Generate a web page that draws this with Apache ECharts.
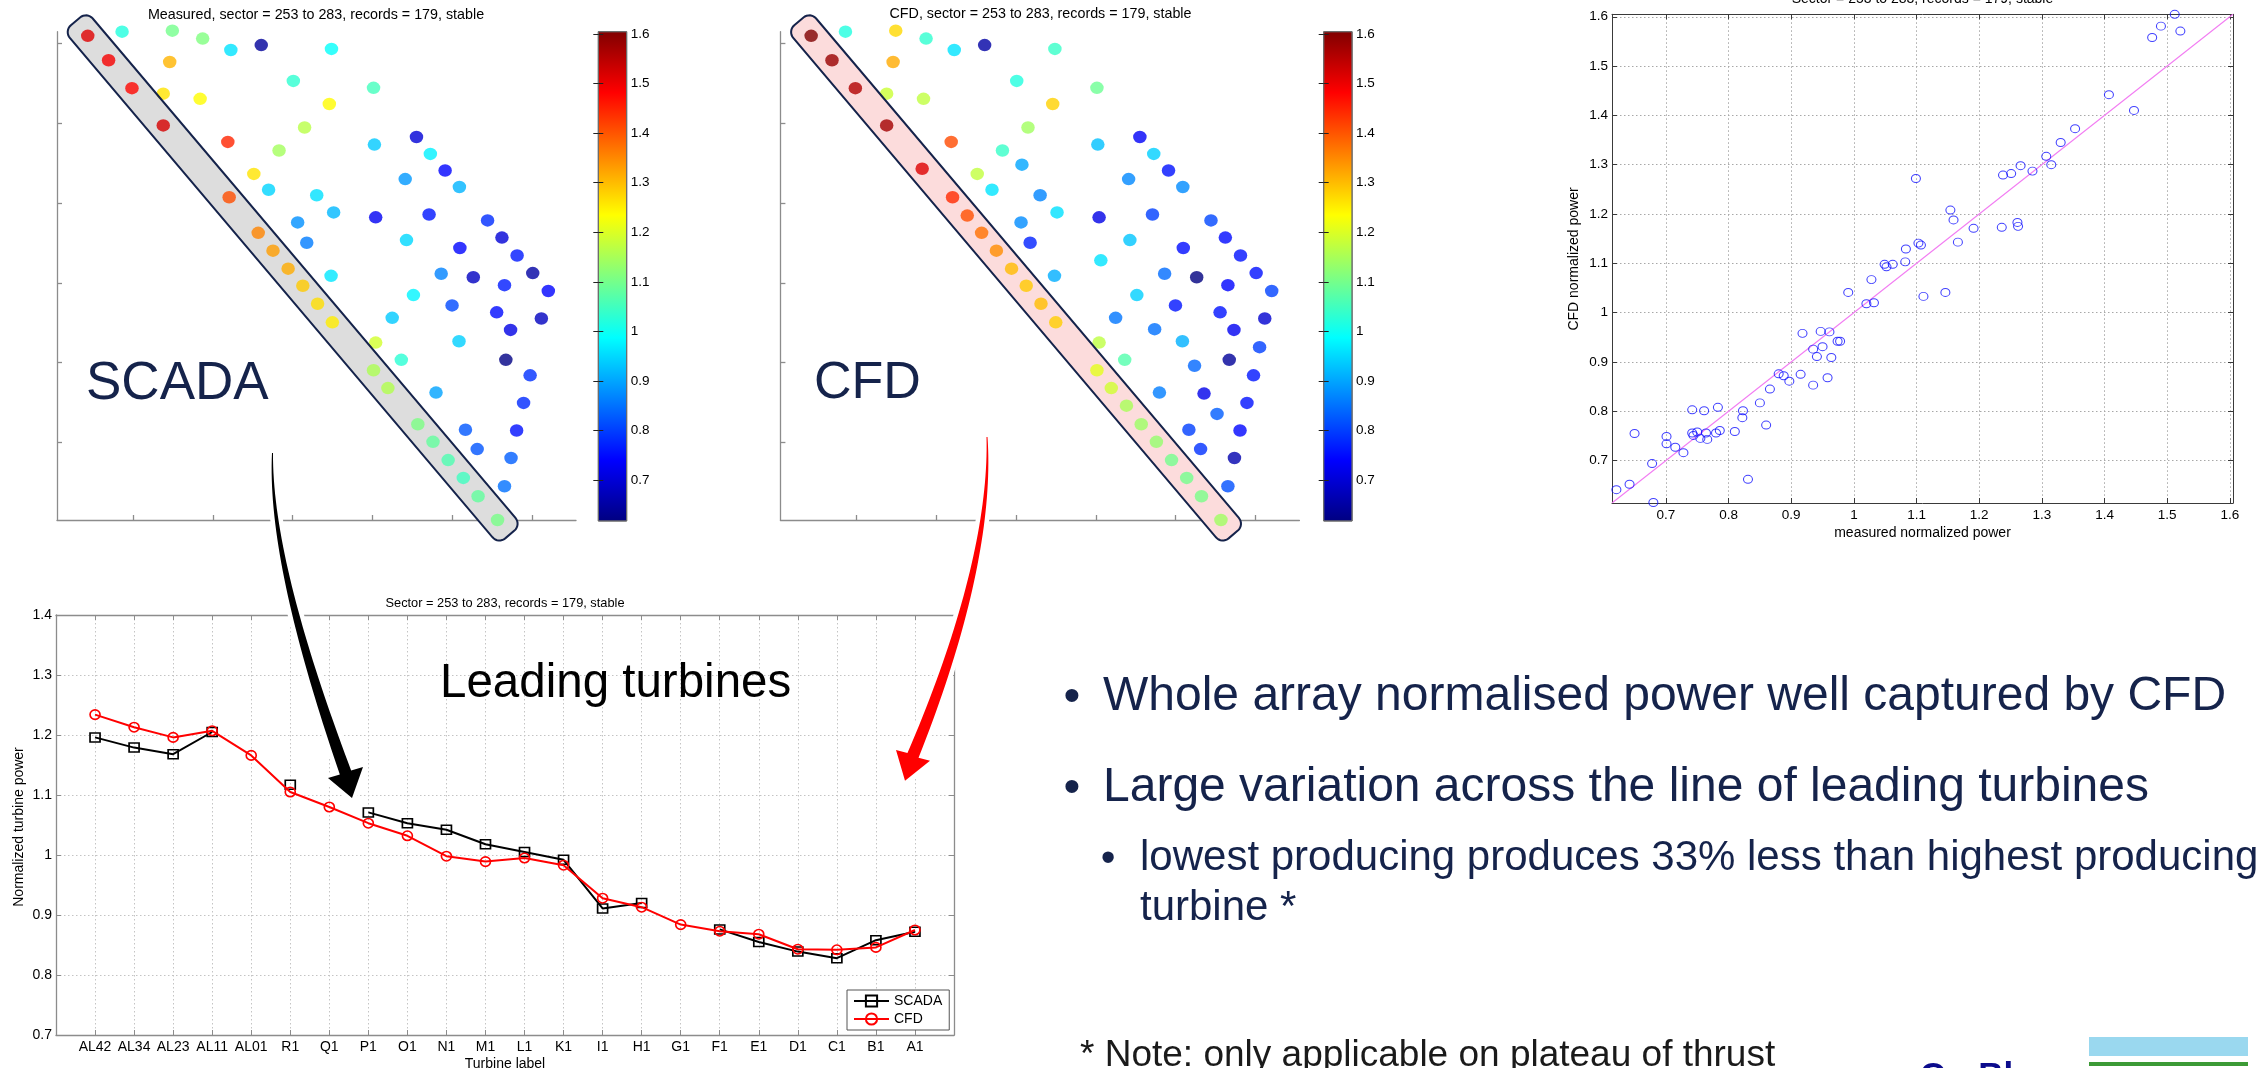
<!DOCTYPE html>
<html>
<head>
<meta charset="utf-8">
<title>Wind farm normalised power: SCADA vs CFD</title>
<script src="https://cdn.jsdelivr.net/npm/echarts@6/dist/echarts.min.js"></script>
<style>
  html, body { margin: 0; padding: 0; background: #fff; overflow: hidden; }
  #chart { width: 2257px; height: 1068px; }
</style>
</head>
<body>
<div id="chart"></div>
<script>
// ---------------- data ----------------
// Leading-row turbine labels (west to east along the front row)
const categories = ['AL42','AL34','AL23','AL11','AL01','R1','Q1','P1','O1','N1','M1','L1','K1','I1','H1','G1','F1','E1','D1','C1','B1','A1'];
// Normalised power of the leading turbines (null = no SCADA record)
const scadaPower = [1.196,1.179,1.168,1.205,null,1.117,null,1.071,1.053,1.042,1.018,1.005,0.992,0.911,0.920,null,0.876,0.855,0.839,0.828,0.858,0.872];
const cfdLinePower = [1.234,1.213,1.196,1.207,1.166,1.105,1.080,1.053,1.032,0.998,0.989,0.995,0.983,0.928,0.913,0.884,0.873,0.868,0.843,0.842,0.846,0.875];

// Turbine layout (grid units); the first 22 entries are the leading row in the order of `categories`
const turbineX = [0.433,0.694,0.987,1.379,1.824,2.205,2.389,2.569,2.754,2.944,3.128,3.313,3.498,4.014,4.194,4.384,4.569,4.759,4.949,5.139,5.324,5.568,
  0.863,1.493,1.873,2.226,2.607,3.487,1.460,3.009,4.014,1.379,1.841,3.460,3.150,4.552,2.188,4.025,2.830,4.726,3.074,4.911,2.514,
  4.411,5.090,2.699,3.302,3.514,4.041,4.710,5.443,3.063,4.427,3.177,5.096,5.623,5.813,4.063,6.009,4.862,5.264,3.482,5.655,
  4.514,6.204,4.998,5.557,4.248,6.117,4.737,5.731,5.085,4.041,6.052,4.362,5.672,5.237,5.976,4.797,5.356,5.894,5.519,5.166,
  5.807,5.313,5.737,5.655];
const turbineY = [6.096,5.790,5.440,4.974,4.431,4.073,3.844,3.628,3.404,3.179,2.964,2.739,2.506,1.906,1.682,1.462,1.229,1.009,0.780,0.556,0.327,0.029,
  6.148,6.161,6.062,5.919,5.980,5.932,5.768,5.531,5.445,5.371,5.307,5.242,4.948,4.828,4.767,4.733,4.659,4.616,4.482,4.409,4.366,
  4.301,4.202,4.167,4.098,3.883,3.822,3.857,3.783,3.758,3.537,3.503,3.438,3.568,3.343,3.283,3.123,3.115,3.071,3.089,2.972,
  2.847,2.899,2.718,2.631,2.562,2.554,2.420,2.411,2.269,2.252,2.195,2.036,2.036,1.962,1.842,1.626,1.613,1.496,1.358,1.160,
  1.151,0.918,0.806,0.452];
// Normalised power per turbine, measured (SCADA) and CFD
const measuredPower = [1.512,1.490,1.476,1.521,null,1.407,null,1.353,1.330,1.315,1.285,1.266,1.251,1.154,1.159,null,1.107,1.083,1.062,1.049,1.082,1.103,
  1.020,1.099,1.111,0.961,0.642,0.991,1.307,1.032,1.052,1.261,1.236,1.238,1.166,0.701,1.447,0.935,1.146,0.974,null,0.742,1.262,
  0.888,0.915,0.947,0.958,0.918,0.728,0.761,0.783,0.880,0.950,0.860,0.744,0.701,0.764,null,0.650,0.866,0.680,0.964,0.766,
  0.978,0.742,0.810,0.750,0.935,0.678,null,0.715,0.941,1.191,null,1.028,0.621,null,0.786,0.897,null,0.780,null,0.823,
  0.755,0.822,0.831,0.850];
const cfdPower = [1.605,1.581,1.558,1.571,1.515,1.442,1.405,1.373,1.345,1.300,1.287,1.298,1.282,1.208,1.188,1.150,1.137,1.129,1.098,1.098,1.103,1.141,
  1.018,1.272,1.033,0.961,0.652,1.041,1.317,1.020,1.093,1.183,1.173,1.279,1.143,0.734,1.410,0.926,1.041,0.942,0.900,0.756,1.175,
  0.872,0.875,0.962,0.868,0.958,0.716,0.801,0.808,0.876,0.931,0.772,0.751,0.749,0.756,0.960,0.755,0.845,0.615,0.909,0.743,
  0.942,0.803,0.759,0.758,0.853,0.694,0.850,0.727,0.911,1.171,0.800,1.067,0.641,0.840,0.761,0.861,0.720,0.756,0.830,0.801,
  0.745,0.787,0.662,0.817];

// Tick values
const mapTicks = [1, 2, 3, 4, 5, 6];
const powerTicks = [0.7, 0.8, 0.9, 1.0, 1.1, 1.2, 1.3, 1.4, 1.5, 1.6];

// Axis extents
const MAP_X = [0.0476, 6.551];
const MAP_Y = [0.029, 6.148];
const C_MIN = 0.617, C_MAX = 1.605;   // colour scale
const S_MIN = 0.614, S_MAX = 1.605;   // scatter axes
const LINE_Y = [0.7, 1.4];

// ---------------- styling ----------------
const FONT = '"Liberation Sans", Arial, Helvetica, sans-serif';
const JET = ['#000080','#0000ff','#0080ff','#00ffff','#80ff80','#ffff00','#ff8000','#ff0000','#800000'];
const NAVY = '#15234b';
const AXIS_GREY = '#8c8c8c';

const chart = echarts.init(document.getElementById('chart'), null, { renderer: 'canvas', width: 2257, height: 1068 });

function layoutPoints(values) {
  const out = [];
  for (let i = 0; i < turbineX.length; i++) {
    if (values[i] != null) out.push([turbineX[i], turbineY[i], values[i]]);
  }
  return out;
}
const scatterPairs = [];
for (let i = 0; i < measuredPower.length; i++) {
  if (measuredPower[i] != null) scatterPairs.push([measuredPower[i], cfdPower[i]]);
}

function mapXAxis(gridIndex) {
  return {
    type: 'value', gridIndex, min: MAP_X[0], max: MAP_X[1],
    axisLine: { show: true, onZero: false, lineStyle: { color: AXIS_GREY, width: 1.3 } },
    axisTick: { show: true, inside: true, length: 5, customValues: mapTicks, lineStyle: { color: AXIS_GREY, width: 1.3 } },
    axisLabel: { show: false, customValues: mapTicks },
    splitLine: { show: false }
  };
}
function mapYAxis(gridIndex) {
  return {
    type: 'value', gridIndex, min: MAP_Y[0], max: MAP_Y[1],
    axisLine: { show: true, onZero: false, lineStyle: { color: AXIS_GREY, width: 1.3 } },
    axisTick: { show: true, inside: true, length: 5, customValues: mapTicks, lineStyle: { color: AXIS_GREY, width: 1.3 } },
    axisLabel: { show: false, customValues: mapTicks },
    splitLine: { show: false }
  };
}
function colorbarYAxis(gridIndex, position, labels) {
  return {
    type: 'value', gridIndex, position, min: C_MIN, max: C_MAX, z: 6,
    axisLine: { show: false },
    axisTick: { show: true, inside: true, length: 5, customValues: powerTicks, lineStyle: { color: '#222', width: 1 } },
    axisLabel: { show: labels, customValues: powerTicks, margin: 4, fontSize: 13.5, color: '#000', fontFamily: FONT },
    splitLine: { show: false }
  };
}
function hiddenXAxis(gridIndex) {
  return { type: 'value', gridIndex, min: 0, max: 1, show: false };
}
function scatterAxis(kind, gridIndex, position, labels) {
  return {
    type: 'value', gridIndex, position, min: S_MIN, max: S_MAX,
    axisLine: { show: true, onZero: false, lineStyle: { color: '#3a3a3a', width: 1 } },
    axisTick: { show: true, inside: true, length: 5, customValues: powerTicks, lineStyle: { color: '#3a3a3a' } },
    axisLabel: { show: labels, customValues: powerTicks, margin: kind === 'x' ? 5 : 4, fontSize: 13.5, color: '#000', fontFamily: FONT },
    splitLine: { show: labels, lineStyle: { type: [1.5, 2.5], color: '#a8a8a8', width: 1 } }
  };
}
function lineXAxis(position, labels) {
  return {
    type: 'value', gridIndex: 5, position, min: 0, max: categories.length + 1, interval: 1,
    axisLine: { show: true, onZero: false, lineStyle: { color: AXIS_GREY, width: 1.3 } },
    axisTick: { show: true, inside: true, length: 5, lineStyle: { color: AXIS_GREY } },
    axisLabel: {
      show: labels, margin: 5, fontSize: 14, color: '#000', fontFamily: FONT,
      formatter: v => categories[v - 1] || ''
    },
    splitLine: { show: labels, lineStyle: { type: [1.5, 2.5], color: '#c4c4c4', width: 1 } }
  };
}
function lineYAxis(position, labels) {
  return {
    type: 'value', gridIndex: 5, position, min: LINE_Y[0], max: LINE_Y[1], interval: 0.1,
    axisLine: { show: true, onZero: false, lineStyle: { color: AXIS_GREY, width: 1.3 } },
    axisTick: { show: true, inside: true, length: 5, lineStyle: { color: AXIS_GREY } },
    axisLabel: { show: labels, margin: 4, fontSize: 14, color: '#000', fontFamily: FONT },
    splitLine: { show: labels, lineStyle: { type: [1.5, 2.5], color: '#c4c4c4', width: 1 } }
  };
}

function colorbarSeries(xi, yi) {
  return {
    type: 'custom', xAxisIndex: xi, yAxisIndex: yi, z: 2, silent: true,
    data: [[0, C_MIN, 1, C_MAX]],
    renderItem: (params, api) => {
      const tl = api.coord([api.value(0), api.value(3)]);
      const br = api.coord([api.value(2), api.value(1)]);
      const stops = JET.map((c, i) => ({ offset: i / (JET.length - 1), color: c }));
      return {
        type: 'rect',
        shape: { x: tl[0], y: tl[1], width: br[0] - tl[0], height: br[1] - tl[1] },
        style: { fill: new echarts.graphic.LinearGradient(0, 1, 0, 0, stops), stroke: '#6a6a6a', lineWidth: 1 }
      };
    }
  };
}

const option = {
  backgroundColor: '#ffffff',
  animation: false,
  textStyle: { fontFamily: FONT },
  grid: [
    { left: 57, top: 31.7, width: 519, height: 488.3 },       // measured layout
    { left: 780.4, top: 31.7, width: 519, height: 488.3 },    // CFD layout
    { left: 598.3, top: 31.7, width: 28.4, height: 489.3 },   // measured colour bar
    { left: 1323.7, top: 31.7, width: 28.4, height: 489.3 },  // CFD colour bar
    { left: 1612, top: 14.3, width: 621, height: 488.7 },     // measured vs CFD
    { left: 56, top: 615, width: 898, height: 420 }           // leading turbines
  ],
  xAxis: [
    mapXAxis(0), mapXAxis(1), hiddenXAxis(2), hiddenXAxis(3),
    scatterAxis('x', 4, 'bottom', true), scatterAxis('x', 4, 'top', false),
    lineXAxis('bottom', true), lineXAxis('top', false)
  ],
  yAxis: [
    mapYAxis(0), mapYAxis(1),
    colorbarYAxis(2, 'right', true), colorbarYAxis(2, 'left', false),
    colorbarYAxis(3, 'right', true), colorbarYAxis(3, 'left', false),
    scatterAxis('y', 4, 'left', true), scatterAxis('y', 4, 'right', false),
    lineYAxis('left', true), lineYAxis('right', false)
  ],
  visualMap: [{
    type: 'continuous', show: false, seriesIndex: [0, 1], dimension: 2,
    min: C_MIN, max: C_MAX, inRange: { color: JET }
  }],
  legend: {
    left: 847, top: 990, orient: 'vertical',
    data: ['SCADA', 'CFD'],
    padding: [4, 7, 4, 6], itemGap: 4, itemWidth: 35, itemHeight: 14,
    backgroundColor: '#fff', borderColor: '#555', borderWidth: 1, borderRadius: 0,
    textStyle: { fontSize: 14, color: '#000', fontFamily: FONT },
    selectedMode: false
  },
  series: [
    {
      name: 'Measured layout', type: 'scatter', xAxisIndex: 0, yAxisIndex: 0, z: 3, clip: false,
      symbol: 'circle', symbolSize: [13.5, 12.5],
      data: layoutPoints(measuredPower)
    },
    {
      name: 'CFD layout', type: 'scatter', xAxisIndex: 1, yAxisIndex: 1, z: 3, clip: false,
      symbol: 'circle', symbolSize: [13.5, 12.5],
      data: layoutPoints(cfdPower)
    },
    colorbarSeries(2, 2),
    colorbarSeries(3, 4),
    {
      name: 'Turbines', type: 'scatter', xAxisIndex: 4, yAxisIndex: 6, z: 3, clip: false,
      symbol: 'circle', symbolSize: [9, 8],
      itemStyle: { color: 'rgba(0,0,0,0)', borderColor: '#1010ff', borderWidth: 1 },
      data: scatterPairs
    },
    {
      name: 'Parity', type: 'line', xAxisIndex: 4, yAxisIndex: 6, z: 2, symbol: 'none',
      lineStyle: { color: '#f27cf2', width: 1.1 },
      data: [[S_MIN, S_MIN], [S_MAX, S_MAX]]
    },
    {
      name: 'SCADA', type: 'line', xAxisIndex: 6, yAxisIndex: 8, z: 3,
      symbol: 'rect', symbolSize: [10, 9], showAllSymbol: true, connectNulls: false,
      color: '#000',
      lineStyle: { color: '#000', width: 2 },
      itemStyle: { color: 'rgba(255,255,255,0)', borderColor: '#000', borderWidth: 1.6 },
      data: scadaPower.map((v, i) => [i + 1, v])
    },
    {
      name: 'CFD', type: 'line', xAxisIndex: 6, yAxisIndex: 8, z: 4,
      symbol: 'circle', symbolSize: [10, 9.5], showAllSymbol: true, connectNulls: false,
      color: '#ff0000',
      lineStyle: { color: '#ff0000', width: 2 },
      itemStyle: { color: 'rgba(255,255,255,0)', borderColor: '#ff0000', borderWidth: 1.6 },
      data: cfdLinePower.map((v, i) => [i + 1, v])
    }
  ]
};
chart.setOption(option);

// ---------------- annotations ----------------
function txt(x, y, text, size, o = {}) {
  return {
    type: 'text', x, y, z: o.z != null ? o.z : 40, rotation: o.rotation || 0, silent: true,
    style: {
      text, fill: o.color || '#000', fontSize: size, fontFamily: FONT,
      fontWeight: o.weight || 'normal',
      align: o.align || 'left', verticalAlign: 'middle',
      textAlign: o.align || 'left', textVerticalAlign: 'middle'
    }
  };
}

// Rounded band enclosing the leading row, built along the line from the first to the last leading turbine
function roundedBand(p0, p1, ext, half, r) {
  const dx = p1[0] - p0[0], dy = p1[1] - p0[1], len = Math.hypot(dx, dy);
  const ux = dx / len, uy = dy / len, nx = -uy, ny = ux;
  const cx = (p0[0] + p1[0]) / 2, cy = (p0[1] + p1[1]) / 2;
  const hl = len / 2 + ext;
  const corners = [[hl - r, half - r, 0], [-(hl - r), half - r, Math.PI / 2], [-(hl - r), -(half - r), Math.PI], [hl - r, -(half - r), 1.5 * Math.PI]];
  const pts = [];
  corners.forEach(([sx, sy, a0]) => {
    for (let k = 0; k <= 8; k++) {
      const a = a0 + (k / 8) * Math.PI / 2;
      const s = sx + r * Math.cos(a), t = sy + r * Math.sin(a);
      pts.push([cx + ux * s + nx * t, cy + uy * s + ny * t]);
    }
  });
  return pts;
}

// Tapered curved arrow: cubic Bezier shaft plus a triangular head
function curvedArrow(P, w0, w1, cornerA, cornerB, tip) {
  const bez = t => {
    const m = 1 - t;
    return [0, 1].map(k => m * m * m * P[0][k] + 3 * m * m * t * P[1][k] + 3 * m * t * t * P[2][k] + t * t * t * P[3][k]);
  };
  const der = t => {
    const m = 1 - t;
    return [0, 1].map(k => 3 * m * m * (P[1][k] - P[0][k]) + 6 * m * t * (P[2][k] - P[1][k]) + 3 * t * t * (P[3][k] - P[2][k]));
  };
  const left = [], right = [];
  const n = 40;
  for (let i = 0; i <= n; i++) {
    const t = i / n;
    const [x, y] = bez(t);
    const [tx, ty] = der(t);
    const l = Math.hypot(tx, ty);
    const nx = -ty / l, ny = tx / l;
    const w = (w0 + (w1 - w0) * t) / 2;
    left.push([x + nx * w, y + ny * w]);
    right.push([x - nx * w, y - ny * w]);
  }
  const [ex, ey] = bez(1);
  const [tx, ty] = der(1);
  const side = (cornerA[0] - ex) * (-ty) + (cornerA[1] - ey) * tx;
  const first = side > 0 ? cornerA : cornerB;
  const second = side > 0 ? cornerB : cornerA;
  return left.concat([first, tip, second], right.reverse());
}

function arrowElements(points, color) {
  return [
    { type: 'polygon', z: 30, silent: true, shape: { points }, style: { fill: '#fff', stroke: '#fff', lineWidth: 9, lineJoin: 'round' } },
    { type: 'polygon', z: 31, silent: true, shape: { points }, style: { fill: color } }
  ];
}

const last = categories.length - 1;
const mStart = chart.convertToPixel({ xAxisIndex: 0, yAxisIndex: 0 }, [turbineX[0], turbineY[0]]);
const mEnd = chart.convertToPixel({ xAxisIndex: 0, yAxisIndex: 0 }, [turbineX[last], turbineY[last]]);
const cStart = chart.convertToPixel({ xAxisIndex: 1, yAxisIndex: 1 }, [turbineX[0], turbineY[0]]);
const cEnd = chart.convertToPixel({ xAxisIndex: 1, yAxisIndex: 1 }, [turbineX[last], turbineY[last]]);
const mBand = roundedBand(mStart, mEnd, 19, 15, 9);
const cBand = roundedBand(cStart, cEnd, 19, 15, 9);

const blackArrow = curvedArrow([[272.5, 453], [270, 540], [305, 660], [345.5, 772.5]], 1, 12, [328, 778], [363, 767], [352, 798]);
const redArrow = curvedArrow([[987, 437], [991, 520], [965, 630], [913, 755.4]], 1, 12, [896, 750], [930, 760.7], [905, 780.7]);

const graphic = [
  // leading-row bands
  { type: 'polygon', z: 1, silent: true, shape: { points: mBand }, style: { fill: '#dddddd' } },
  { type: 'polygon', z: 5, silent: true, shape: { points: mBand }, style: { fill: 'none', stroke: NAVY, lineWidth: 2 } },
  { type: 'polygon', z: 1, silent: true, shape: { points: cBand }, style: { fill: '#fcdcdc' } },
  { type: 'polygon', z: 5, silent: true, shape: { points: cBand }, style: { fill: 'none', stroke: NAVY, lineWidth: 2 } },

  // panel titles
  txt(316, 15.5, 'Measured, sector = 253 to 283, records = 179, stable', 14.3, { align: 'center' }),
  txt(1040.5, 14.5, 'CFD, sector = 253 to 283, records = 179, stable', 14.3, { align: 'center' }),
  txt(1922.5, -1, 'Sector = 253 to 283, records = 179, stable', 14, { align: 'center' }),
  txt(505, 603, 'Sector = 253 to 283, records = 179, stable', 12.8, { align: 'center' }),

  // axis names
  txt(1922.5, 533, 'measured normalized power', 14, { align: 'center' }),
  txt(1574, 259, 'CFD normalized power', 14, { align: 'center', rotation: Math.PI / 2 }),
  txt(505, 1064, 'Turbine label', 14, { align: 'center' }),
  txt(19, 827, 'Normalized turbine power', 14, { align: 'center', rotation: Math.PI / 2 }),

  // panel labels
  txt(86, 384, 'SCADA', 53, { color: NAVY }),
  txt(814, 384, 'CFD', 52, { color: NAVY }),
  txt(440, 684, 'Leading turbines', 47.5),

  // bullet points
  txt(1072, 698, '\u2022', 48, { align: 'center', color: NAVY }),
  txt(1103, 697, 'Whole array normalised power well captured by CFD', 48, { color: NAVY }),
  txt(1072, 789, '\u2022', 48, { align: 'center', color: NAVY }),
  txt(1103, 788, 'Large variation across the line of leading turbines', 48, { color: NAVY }),
  txt(1108, 859, '\u2022', 42, { align: 'center', color: NAVY }),
  txt(1140, 858, 'lowest producing produces 33% less than highest producing', 42, { color: NAVY }),
  txt(1140, 908, 'turbine *', 42, { color: NAVY }),
  txt(1080, 1056, '* Note: only applicable on plateau of thrust', 37, { color: '#1a1a1a' }),

  // logo strip
  txt(1920, 1077, 'Co-Bl', 35, { color: '#0b0b8c', weight: 'bold' }),
  { type: 'rect', z: 40, silent: true, shape: { x: 2089, y: 1037, width: 159, height: 19 }, style: { fill: '#9ad8ef' } },
  { type: 'rect', z: 40, silent: true, shape: { x: 2089, y: 1062, width: 159, height: 4 }, style: { fill: '#3c9a36' } }
].concat(arrowElements(blackArrow, '#000'), arrowElements(redArrow, '#ff0000'));

chart.setOption({ graphic });
</script>
</body>
</html>
